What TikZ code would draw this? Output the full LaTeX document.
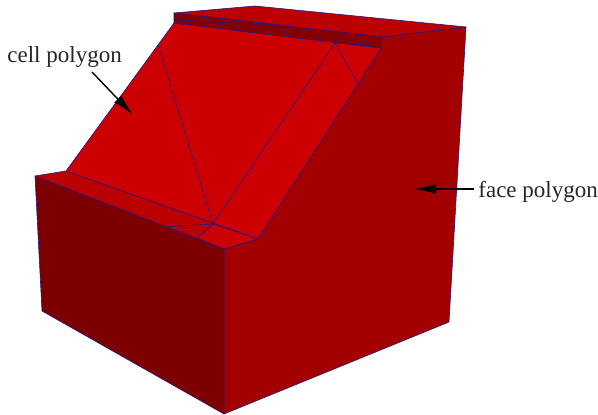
\documentclass[tikz,border=0pt]{standalone}
\usepackage{fontspec}
\setmainfont{Liberation Serif}
\usetikzlibrary{arrows.meta}
\definecolor{rampred}{RGB}{204,0,0}
\definecolor{ledgered}{RGB}{187,0,0}
\definecolor{facered}{RGB}{163,0,0}
\definecolor{sidered}{RGB}{125,0,0}
\definecolor{stripred}{RGB}{133,0,0}
\definecolor{edgeblue}{RGB}{40,20,130}
\tikzset{
  facet/.style={draw=edgeblue, line width=0.3pt, line join=round},
  mesh/.style={draw=edgeblue, line width=0.3pt},
  lbl/.style={font=\fontsize{11.5}{13}\selectfont, text=black!85, inner sep=0pt},
  pointer/.style={-{Latex[length=11pt,width=5pt]}, black, line width=0.7pt}
}
\begin{document}
\begin{tikzpicture}[x=0.5pt,y=-0.5pt]
  \useasboundingbox (0,0) rectangle (598,415);
  % block faces
  \draw[facet, fill=sidered] (35,176) -- (224,249) -- (224,414) -- (42,311) -- cycle;
  \draw[facet, fill=facered] (224,249) -- (258,239) -- (381,48) -- (382,37) -- (466,27) -- (449,322) -- (224,414) -- cycle;
  % top faces
  \draw[facet, fill=ledgered] (174,13) -- (255,6) -- (466,27) -- (382,37) -- cycle;
  \draw[facet, fill=ledgered] (35,176) -- (66,171) -- (258,239) -- (224,249) -- cycle;
  \draw[facet, fill=rampred] (174,23) -- (381,48) -- (258,239) -- (66,171) -- cycle;
  \draw[facet, fill=rampred] (213,224) -- (258,239) -- (224,249) -- (197,238) -- cycle;
  \draw[facet, fill=stripred] (174,13) -- (382,37) -- (381,48) -- (174,23) -- cycle;
  % mesh lines
  \coordinate (hub) at (213,224);
  \coordinate (kink) at (335,43);
  \draw[mesh] (174,20) -- (275,25);
  \draw[mesh] (kink) -- (381,46);
  \draw[mesh] (335,32) -- (kink);
  \draw[mesh] (158,45) -- (hub);
  \draw[mesh] (kink) -- (hub);
  \draw[mesh] (kink) -- (358,84);
  \draw[mesh] (165,227) -- (hub);
  \draw[mesh] (197,238) -- (hub);
  % labels
  \node[lbl, anchor=base west] (celllabel) at (7,63) {cell polygon};
  \node[lbl, anchor=base west] (facelabel) at (478,198) {face polygon};
  \coordinate (celltip) at (133,115);
  \coordinate (facetip) at (414,189);
  \draw[pointer] (92,72) -- (celltip);
  \draw[pointer] (474,189) -- (facetip);
\end{tikzpicture}
\end{document}
